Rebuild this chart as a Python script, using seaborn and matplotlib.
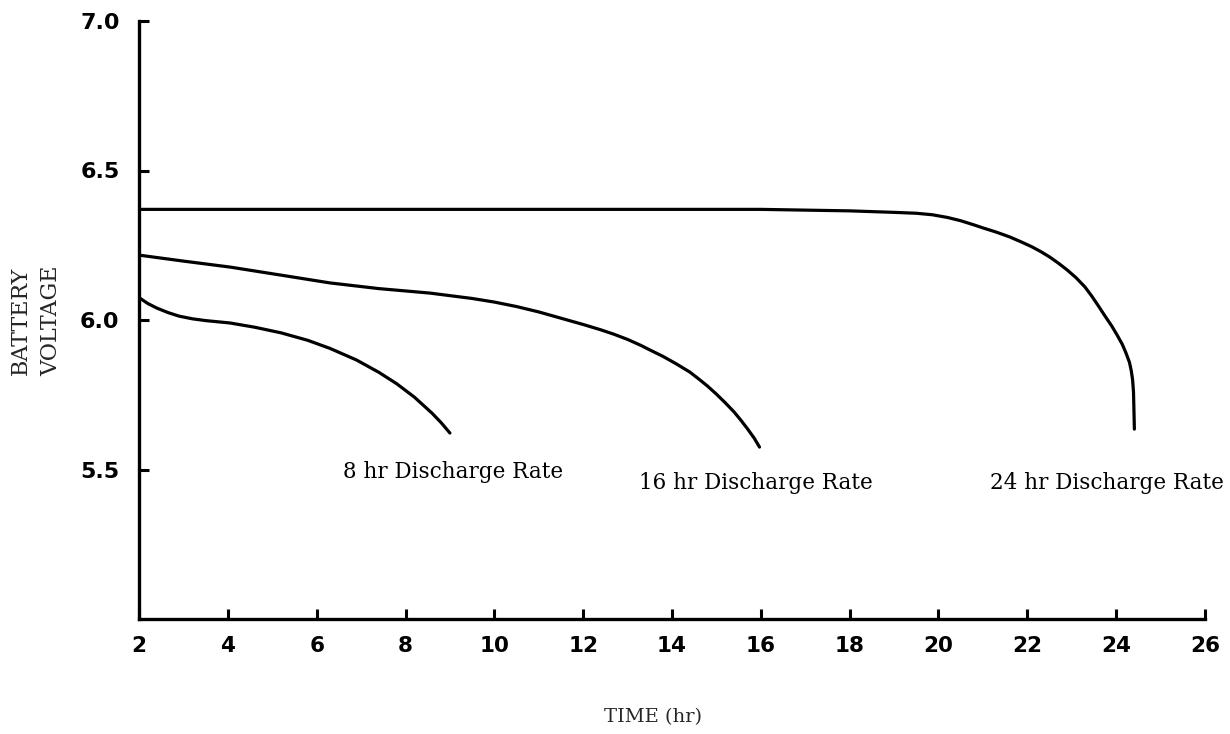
import numpy as np
import pandas as pd
import matplotlib
matplotlib.use("Agg")
import matplotlib.pyplot as plt
import seaborn as sns

# ---- data ----
x_8hr = [2.0, 2.2, 2.4, 2.65, 2.9, 3.2, 3.5, 4.05, 4.6, 5.2, 5.8, 6.3, 6.9, 7.4, 7.8, 8.2, 8.6, 8.8, 9.0]
v_8hr = [6.075, 6.055, 6.04, 6.025, 6.013, 6.004, 5.998, 5.99, 5.976, 5.957, 5.932, 5.905, 5.866, 5.825,
         5.787, 5.742, 5.688, 5.657, 5.622]

x_16hr = [2.0, 3.0, 4.05, 5.2, 6.3, 7.4, 8.55, 9.5, 10.0, 10.5, 11.0, 11.5, 12.0, 12.4, 12.7, 13.0, 13.3,
          13.5, 13.8, 14.1, 14.4, 14.6, 14.8, 15.0, 15.2, 15.4, 15.55, 15.7, 15.85, 15.97]
v_16hr = [6.217, 6.197, 6.177, 6.15, 6.124, 6.105, 6.09, 6.072, 6.06, 6.045, 6.027, 6.006, 5.985, 5.967,
          5.952, 5.935, 5.915, 5.90, 5.878, 5.853, 5.826, 5.803, 5.779, 5.752, 5.723, 5.692, 5.665,
          5.636, 5.605, 5.575]

x_24hr = [2.0, 4.0, 6.0, 8.0, 10.0, 12.0, 14.0, 16.0, 18.0, 19.0, 19.5, 19.86, 20.2, 20.5, 20.8, 21.0,
          21.3, 21.6, 21.85, 22.1, 22.3, 22.5, 22.7, 22.9, 23.1, 23.3, 23.45, 23.6, 23.75, 23.9, 24.02,
          24.14, 24.22, 24.3, 24.34, 24.37, 24.39, 24.4, 24.41]
v_24hr = [6.37, 6.37, 6.37, 6.37, 6.37, 6.37, 6.37, 6.37, 6.365, 6.36, 6.357, 6.352, 6.343, 6.332,
          6.318, 6.308, 6.294, 6.278, 6.262, 6.245, 6.229, 6.211, 6.19, 6.167, 6.141, 6.11, 6.08, 6.047,
          6.013, 5.98, 5.95, 5.918, 5.89, 5.858, 5.83, 5.80, 5.76, 5.70, 5.635]

series_labels = ["8 hr Discharge Rate", "16 hr Discharge Rate", "24 hr Discharge Rate"]
label_x = [6.6, 13.25, 21.15]
label_y = [5.49, 5.455, 5.455]

x_ticks = [2, 4, 6, 8, 10, 12, 14, 16, 18, 20, 22, 24, 26]
y_ticks = [5.5, 6.0, 6.5, 7.0]
y_tick_labels = ["5.5", "6.0", "6.5", "7.0"]

# ---- build long table ----
frames = []
for name, xs, vs in zip(series_labels, [x_8hr, x_16hr, x_24hr], [v_8hr, v_16hr, v_24hr]):
    frames.append(pd.DataFrame({"time": xs, "voltage": vs, "rate": name}))
df = pd.concat(frames, ignore_index=True)

sns.set_style("white")
fig = plt.figure(figsize=(12.3, 7.34), dpi=100)
ax = fig.add_axes([139 / 1230, 1 - 619 / 734, (1205 - 139) / 1230, (619 - 21) / 734])

sns.lineplot(data=df, x="time", y="voltage", units="rate", estimator=None, sort=False,
             color="black", linewidth=2.3, legend=False, ax=ax)

ax.set_xlim(2, 26)
ax.set_ylim(5.0, 7.0)
ax.set_xlabel("")
ax.set_ylabel("")

for side in ["top", "right"]:
    ax.spines[side].set_visible(False)
for side in ["left", "bottom"]:
    ax.spines[side].set_linewidth(2.4)
    ax.spines[side].set_color("black")

ax.tick_params(axis="both", which="major", bottom=True, left=True, direction="in",
               length=7, width=2.2, colors="black")
ax.tick_params(axis="x", pad=12)
ax.tick_params(axis="y", pad=14)

ax.set_xticks(x_ticks)
ax.set_xticklabels([str(t) for t in x_ticks], fontsize=15.5, fontweight="bold",
                   family="DejaVu Sans")
ax.set_yticks(y_ticks)
ax.set_yticklabels(y_tick_labels, fontsize=16, fontweight="bold", family="DejaVu Sans")

for name, lx, ly in zip(series_labels, label_x, label_y):
    ax.text(lx, ly, name, ha="left", va="center", fontsize=15.5,
            family="DejaVu Serif", color="black", clip_on=False)

fig.text(653 / 1230, 1 - 717 / 734, "TIME (hr)", ha="center", va="center",
         fontsize=14, family="DejaVu Serif")
fig.text(36 / 1230, 1 - 321 / 734, "BATTERY\nVOLTAGE", ha="center", va="center",
         rotation=90, fontsize=16, family="DejaVu Serif", multialignment="center",
         linespacing=1.55)

fig.savefig("out.png", dpi=100, facecolor="white")
